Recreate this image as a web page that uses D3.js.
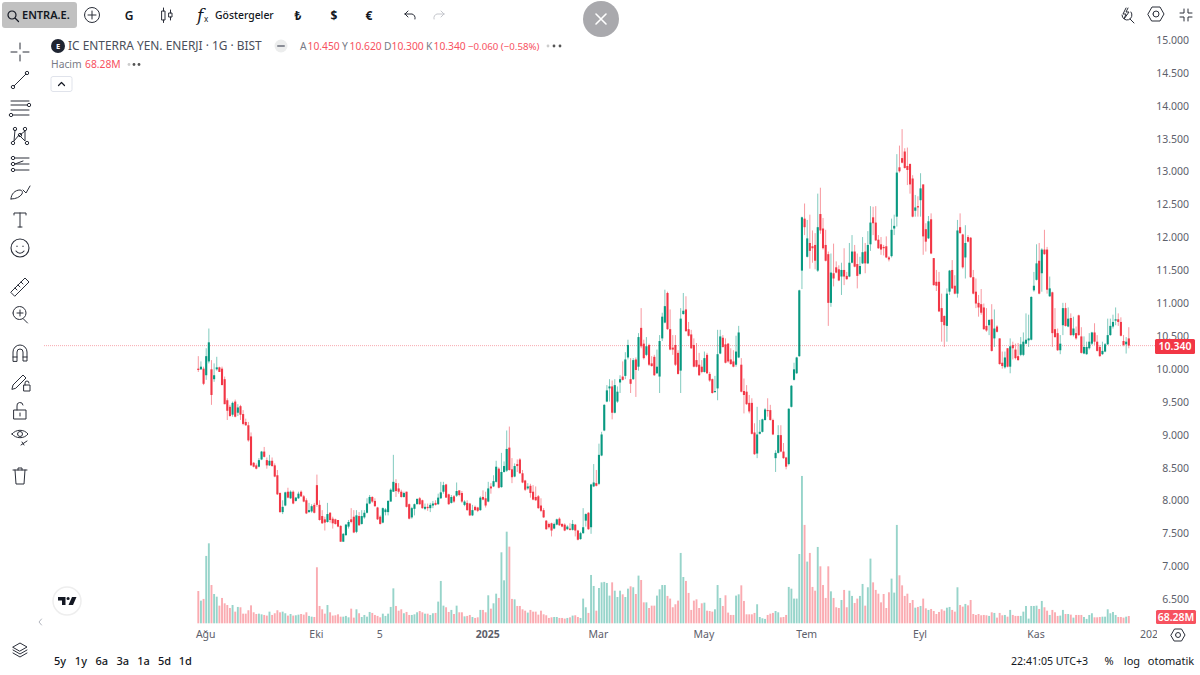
<!DOCTYPE html>
<html>
<head>
<meta charset="utf-8">
<script src="https://cdn.jsdelivr.net/npm/d3@7/dist/d3.min.js"></script>
<style>
  html, body { margin: 0; padding: 0; background: #fff; }
  svg { display: block; font-family: "Noto Sans", sans-serif; }
</style>
</head>
<body>
<div id="chart"></div>
<script>
// Daily candles, oldest first.
var opens = [
9.99,9.98,9.99,9.89,10.10,9.98,9.83,9.98,10.01,9.99,9.83,9.51,9.41,9.29,9.49,9.32,9.42,9.30,9.18,9.13,
8.96,8.56,8.52,8.50,8.61,8.73,8.60,8.52,8.59,8.52,8.37,8.10,7.81,7.91,8.12,8.02,8.12,7.98,8.02,8.12,
8.05,7.99,7.81,7.82,7.92,8.22,7.92,7.75,7.70,7.66,7.80,7.71,7.70,7.69,7.60,7.36,7.46,7.59,7.70,7.74,
7.51,7.75,7.63,7.73,7.80,7.94,8.04,7.98,7.88,7.74,7.65,7.81,7.81,7.97,8.12,8.25,8.17,8.12,8.04,8.12,
7.93,7.73,7.86,7.93,8.02,7.99,7.86,7.89,7.87,7.91,7.95,7.93,8.02,8.12,8.23,8.08,7.95,8.05,8.06,8.14,
8.10,7.92,7.95,7.94,7.76,7.89,7.88,7.84,8.04,8.02,7.97,8.20,8.20,8.27,8.47,8.19,8.42,8.44,8.79,8.46,
8.35,8.54,8.61,8.40,8.29,8.17,8.21,8.12,8.04,8.05,7.91,7.84,7.68,7.63,7.64,7.56,7.62,7.71,7.63,7.62,
7.55,7.56,7.54,7.62,7.53,7.40,7.49,7.68,7.80,7.58,8.20,8.25,8.24,8.67,9.05,9.49,9.69,9.72,9.32,9.49,
9.78,9.87,9.88,10.16,9.83,9.83,10.13,10.02,10.61,10.37,10.20,10.35,10.07,10.17,9.92,9.87,10.45,10.69,11.14,10.59,
10.31,10.35,10.23,9.96,10.82,10.89,10.59,10.51,10.35,10.12,10.05,10.02,9.94,10.20,9.91,9.83,9.64,9.69,10.22,10.46,
10.36,10.37,10.13,10.10,10.05,10.16,10.05,9.65,9.64,9.47,9.47,9.02,8.70,9.00,9.03,9.21,9.36,9.36,9.21,8.63,
8.71,8.98,8.73,8.64,8.54,9.41,9.82,9.92,10.18,11.48,12.27,11.69,11.90,11.85,11.87,11.48,12.34,12.12,11.87,11.73,
10.99,11.44,11.53,11.50,11.39,11.49,11.40,11.39,11.60,11.77,11.58,11.43,11.59,11.77,11.59,11.88,12.29,12.21,11.95,11.88,
11.84,11.85,11.68,11.70,12.12,12.30,13.05,13.19,13.29,13.07,13.10,12.88,12.39,12.46,12.55,12.79,12.11,11.97,12.26,11.67,
11.31,11.31,10.91,10.79,10.64,11.16,11.49,11.25,11.13,12.14,12.03,11.68,11.99,11.98,11.38,11.16,10.99,10.97,10.92,10.64,
10.65,10.74,10.45,10.63,10.45,10.08,10.01,10.30,10.02,10.35,10.28,10.18,10.20,10.20,10.37,10.42,10.43,11.18,11.34,11.63,
11.44,11.80,11.80,11.09,11.15,10.59,10.53,10.27,10.65,10.91,10.63,10.76,10.50,10.53,10.80,10.48,10.22,10.21,10.30,10.37,
10.54,10.40,10.32,10.21,10.25,10.36,10.50,10.63,10.72,10.74,10.70,10.41,10.36,10.45
];
var highs = [
10.18,10.10,10.02,10.30,10.60,10.12,10.07,10.17,10.02,10.02,9.87,9.54,9.44,9.49,9.52,9.45,9.44,9.36,9.23,9.18,
9.02,8.57,8.55,8.63,8.74,8.80,8.64,8.68,8.64,8.55,8.45,8.11,7.99,8.12,8.18,8.14,8.14,8.04,8.12,8.14,
8.07,8.02,7.95,7.93,7.95,8.38,7.99,7.84,7.74,7.95,7.81,7.74,7.71,7.69,7.61,7.49,7.63,7.69,7.87,7.84,
7.84,7.81,7.84,7.84,8.02,8.07,8.05,8.02,7.89,7.76,7.88,7.87,7.99,8.17,8.68,8.31,8.25,8.15,8.12,8.12,
7.94,7.89,7.94,8.02,8.04,8.00,7.94,7.94,7.95,7.98,7.99,8.09,8.27,8.27,8.24,8.09,8.07,8.07,8.26,8.14,
8.13,7.99,7.99,7.95,7.92,7.91,7.89,8.05,8.14,8.12,8.27,8.25,8.37,8.59,8.49,8.71,8.58,9.05,9.11,8.63,
8.55,8.61,8.63,8.45,8.30,8.25,8.24,8.22,8.20,8.07,8.02,7.87,7.69,7.65,7.65,7.65,7.71,7.73,7.64,7.64,
7.61,7.64,7.69,7.63,7.54,7.51,7.87,7.79,7.81,8.24,8.54,8.45,8.85,9.03,9.45,9.74,9.83,9.81,9.83,9.72,
9.89,10.10,10.24,10.43,10.15,10.15,10.16,10.53,10.91,10.43,10.47,10.37,10.18,10.20,10.28,10.50,10.84,11.19,11.16,10.89,
10.50,10.50,10.27,10.91,11.14,11.09,10.70,10.58,10.45,10.38,10.23,10.12,10.25,10.23,9.94,9.84,9.88,10.58,10.58,10.50,
10.45,10.38,10.30,10.27,10.49,10.64,10.15,9.84,9.74,9.59,9.54,9.16,9.41,9.21,9.23,9.39,9.54,9.44,9.23,8.75,
9.13,9.13,8.86,8.65,9.39,9.74,10.08,10.17,11.19,12.30,12.50,12.25,12.33,12.09,12.05,12.65,12.74,12.28,12.10,11.77,
11.74,11.89,11.62,11.56,11.60,11.82,11.46,11.90,12.02,11.87,11.74,11.69,11.99,11.90,12.08,12.46,12.45,12.46,12.02,11.99,
11.87,12.00,11.70,12.27,12.33,13.25,13.38,13.63,13.34,13.35,13.11,12.93,12.63,12.61,12.96,12.79,12.20,12.31,12.35,11.67,
11.49,11.46,11.13,10.80,11.21,11.49,11.64,11.41,12.25,12.35,12.04,12.17,12.02,11.99,11.49,11.36,11.11,11.20,10.98,10.91,
10.74,10.97,10.89,10.65,10.45,10.25,10.25,10.30,10.45,10.40,10.37,10.38,10.47,10.54,10.83,10.81,11.09,11.46,11.88,11.90,
11.82,12.10,11.84,11.39,11.16,10.91,10.60,10.50,10.99,10.99,10.92,10.83,10.78,10.63,10.81,10.62,10.48,10.40,10.53,10.55,
10.68,10.50,10.35,10.40,10.38,10.75,10.75,10.81,10.92,10.83,10.77,10.50,10.47,10.62
];
var lows = [
9.94,9.97,9.74,9.82,10.07,9.44,9.79,9.96,9.94,9.74,9.45,9.21,9.26,9.26,9.25,9.27,9.21,9.13,9.12,8.88,
8.52,8.49,8.46,8.49,8.60,8.64,8.47,8.51,8.50,8.34,8.07,7.80,7.78,7.90,8.02,8.01,7.93,7.97,8.01,8.04,
7.96,7.78,7.80,7.80,7.79,7.89,7.68,7.63,7.53,7.65,7.65,7.56,7.62,7.58,7.36,7.36,7.45,7.56,7.64,7.49,
7.49,7.60,7.62,7.71,7.79,7.93,7.95,7.89,7.69,7.62,7.64,7.76,7.76,7.97,8.12,8.04,8.09,8.03,8.03,7.88,
7.70,7.71,7.76,7.93,7.92,7.86,7.84,7.83,7.81,7.87,7.91,7.92,8.01,8.09,8.03,7.92,7.94,7.95,8.04,8.05,
7.95,7.90,7.83,7.75,7.75,7.83,7.81,7.83,7.99,7.88,7.96,8.09,8.19,8.26,8.17,8.18,8.41,8.42,8.44,8.25,
8.34,8.42,8.39,8.25,8.13,8.15,8.03,7.99,7.98,7.86,7.81,7.72,7.54,7.56,7.44,7.55,7.61,7.60,7.58,7.52,
7.54,7.53,7.53,7.44,7.38,7.39,7.48,7.59,7.54,7.48,8.19,8.20,8.22,8.66,9.04,9.48,9.49,9.22,9.31,9.47,
9.62,9.81,9.83,10.13,9.62,9.82,9.56,9.96,10.30,10.13,10.18,10.03,10.02,9.88,9.91,9.62,10.41,10.68,10.58,10.27,
10.20,10.03,9.90,9.62,10.81,10.55,10.48,10.29,10.01,10.01,9.88,9.92,9.93,9.91,9.79,9.61,9.62,9.51,10.21,10.31,
10.07,10.08,10.05,10.01,10.02,10.15,9.63,9.31,9.44,9.31,8.99,8.68,8.63,8.99,9.02,9.20,9.26,9.20,8.98,8.42,
8.70,8.72,8.62,8.46,8.52,9.40,9.81,9.91,10.17,11.20,12.02,11.68,11.51,11.60,11.50,11.46,12.04,11.80,11.62,10.64,
10.93,11.24,11.44,11.32,11.11,11.26,11.34,11.38,11.59,11.53,11.21,11.41,11.58,11.44,11.58,11.78,12.02,11.93,11.81,11.72,
11.71,11.67,11.62,11.68,12.02,12.15,12.97,13.11,13.03,12.78,12.65,12.29,12.30,12.30,12.30,11.72,11.77,11.96,11.73,11.25,
11.17,10.85,10.40,10.32,10.40,11.11,11.20,11.12,11.07,12.04,11.51,11.36,11.91,11.37,11.12,10.91,10.78,10.81,10.58,10.55,
10.50,10.25,10.32,10.54,10.05,9.99,9.99,10.01,9.92,10.13,10.13,10.11,10.18,10.18,10.36,10.32,10.42,11.16,11.33,11.12,
11.16,11.72,11.13,11.08,10.32,10.46,10.26,10.21,10.50,10.63,10.62,10.49,10.48,10.43,10.49,10.22,10.21,10.20,10.28,10.35,
10.35,10.25,10.17,10.20,10.24,10.35,10.49,10.60,10.65,10.64,10.48,10.33,10.22,10.30
];
var closes = [
9.97,10.02,9.76,10.18,10.39,9.59,9.89,10.01,9.94,9.74,9.45,9.35,9.27,9.47,9.26,9.40,9.29,9.15,9.13,8.90,
8.52,8.50,8.47,8.60,8.73,8.65,8.52,8.59,8.51,8.35,8.08,7.81,7.89,8.11,8.03,8.12,7.94,8.03,8.09,8.05,
7.97,7.79,7.84,7.90,7.80,7.92,7.69,7.64,7.65,7.78,7.69,7.64,7.63,7.59,7.36,7.48,7.62,7.66,7.66,7.50,
7.76,7.61,7.75,7.80,7.94,8.04,7.97,7.90,7.70,7.63,7.87,7.85,7.98,8.15,8.27,8.13,8.12,8.04,8.10,7.89,
7.71,7.87,7.93,8.01,7.93,7.87,7.89,7.87,7.92,7.94,7.92,8.03,8.11,8.22,8.03,7.93,8.04,7.97,8.13,8.07,
7.97,7.97,7.84,7.76,7.84,7.84,7.83,8.03,8.00,7.91,8.17,8.17,8.28,8.50,8.18,8.42,8.51,8.77,8.45,8.34,
8.51,8.51,8.40,8.26,8.15,8.20,8.10,8.00,7.99,7.87,7.83,7.73,7.55,7.58,7.53,7.63,7.70,7.61,7.59,7.53,
7.59,7.54,7.63,7.53,7.39,7.49,7.58,7.78,7.55,8.23,8.26,8.21,8.68,8.99,9.44,9.66,9.72,9.32,9.74,9.64,
9.83,9.82,10.13,10.35,9.76,10.12,9.97,10.47,10.33,10.15,10.33,10.05,10.03,9.89,10.02,10.41,10.78,10.94,10.59,10.28,
10.28,10.05,9.91,10.75,10.87,10.56,10.49,10.30,10.02,10.02,9.89,9.94,10.15,9.92,9.81,9.62,9.65,10.21,10.48,10.32,
10.08,10.10,10.06,10.02,10.25,10.54,9.64,9.59,9.45,9.34,9.00,8.69,8.99,9.03,9.22,9.37,9.35,9.21,8.99,8.71,
8.98,8.73,8.63,8.50,9.38,9.73,9.98,10.16,11.18,12.29,12.14,11.97,11.78,11.82,11.63,12.14,12.09,11.82,11.63,10.99,
11.45,11.36,11.45,11.33,11.49,11.39,11.35,11.60,11.77,11.54,11.40,11.55,11.76,11.59,11.87,12.21,12.20,11.94,11.82,11.80,
11.82,11.68,11.65,12.10,12.16,12.97,12.99,13.12,13.04,13.01,12.79,12.30,12.44,12.44,12.73,12.00,11.92,12.23,11.74,11.26,
11.25,10.86,10.70,10.65,11.13,11.48,11.21,11.13,12.09,12.05,11.53,11.90,11.92,11.38,11.13,10.98,10.92,10.84,10.59,10.57,
10.73,10.26,10.60,10.55,10.06,10.03,10.16,10.02,10.33,10.30,10.15,10.12,10.36,10.40,10.43,10.45,11.08,11.25,11.59,11.13,
11.80,11.73,11.19,11.21,10.53,10.47,10.27,10.37,10.91,10.64,10.75,10.50,10.60,10.45,10.50,10.23,10.32,10.32,10.40,10.54,
10.40,10.26,10.18,10.26,10.36,10.50,10.64,10.70,10.74,10.70,10.49,10.35,10.40,10.34
];
// Volume in millions.
var volumes = [
302,212,228,630,748,358,274,249,165,237,187,171,143,171,109,153,150,90,90,122,
168,103,87,90,84,78,72,109,78,94,122,103,109,94,72,87,72,75,81,87,
81,103,69,62,59,524,162,131,90,171,103,72,75,84,62,62,69,56,137,53,
131,94,59,78,62,106,97,78,69,56,90,69,90,153,327,162,118,131,94,106,
78,78,84,103,115,103,90,90,78,94,97,203,396,165,150,106,125,87,165,103,
103,65,69,78,59,50,56,125,125,103,262,137,187,277,237,664,402,857,717,228,
224,162,162,131,118,100,125,109,109,81,118,84,75,50,56,59,59,50,50,44,
50,56,72,75,59,50,231,150,97,452,349,118,330,383,387,377,259,383,305,246,
305,271,246,324,346,337,274,446,405,196,196,143,165,165,259,318,358,358,256,231,
150,178,212,658,433,396,284,125,212,224,143,187,193,118,115,109,131,358,237,162,
262,100,78,78,259,271,355,209,84,84,84,97,178,59,47,41,78,90,97,115,
103,56,59,78,340,324,231,231,648,1378,920,577,658,340,305,714,533,358,237,533,
299,237,150,143,218,312,150,305,256,190,231,256,368,165,337,605,383,312,277,196,
274,143,290,418,287,920,449,355,256,277,190,218,146,153,162,231,140,125,134,115,
87,106,131,118,146,153,125,109,337,171,156,181,168,218,87,78,87,75,78,75,
69,103,97,53,97,75,78,62,125,78,69,69,69,109,162,44,162,162,165,134,
209,150,118,78,125,103,69,72,125,87,87,81,53,78,78,78,59,41,78,94,
56,56,59,62,62,131,94,106,78,59,59,53,62,68.28
];
var priceTicks = [15, 14.5, 14, 13.5, 13, 12.5, 12, 11.5, 11, 10.5, 10, 9.5, 9, 8.5, 8, 7.5, 7, 6.5];
var timeTicks = [3, 45, 69, 110, 152, 192, 231, 274, 318, 362];
var timeLabels = ["Ağu", "Eki", "5", "2025", "Mar", "May", "Tem", "Eyl", "Kas", "2026"];
var ranges = ["5y", "1y", "6a", "3a", "1a", "5d", "1d"];
var lastPrice = 10.34;
var lastVolume = 68.28;

var upColor = "#089981", downColor = "#f23645";
var textColor = "#131722", axisColor = "#5d606b";

var svg = d3.select("#chart").append("svg").attr("width", 1200).attr("height", 675);

var x = d3.scaleLinear().domain([0, 353]).range([198.3, 1128.8]);
var y = d3.scaleLinear().domain([10, 15]).range([368, 39]);
var yVol = d3.scaleLinear().domain([0, 1400]).range([623.3, 473.6]);

// Volume bars sit behind the candles.
svg.append("g").selectAll("rect")
    .data(volumes)
    .enter().append("rect")
    .attr("x", (d, i) => x(i) - 0.95)
    .attr("width", 1.9)
    .attr("y", d => yVol(d))
    .attr("height", d => yVol(0) - yVol(d))
    .style("fill", (d, i) => closes[i] >= opens[i] ? upColor : downColor)
    .style("opacity", 0.42);

// Last price line.
svg.append("line")
    .attr("x1", 44).attr("x2", 1155)
    .attr("y1", y(lastPrice)).attr("y2", y(lastPrice))
    .style("stroke", downColor).style("stroke-width", 1)
    .style("stroke-dasharray", "1 1").style("opacity", 0.42);

var candle = svg.append("g").selectAll("g")
    .data(opens)
    .enter().append("g")
    .style("color", (d, i) => closes[i] >= opens[i] ? upColor : downColor);

candle.append("line")
    .attr("x1", (d, i) => x(i)).attr("x2", (d, i) => x(i))
    .attr("y1", (d, i) => y(highs[i]))
    .attr("y2", (d, i) => y(lows[i]))
    .style("stroke", "currentColor").style("stroke-width", 1).style("opacity", 0.5);

candle.append("rect")
    .attr("x", (d, i) => x(i) - 1.05)
    .attr("width", 2.1)
    .attr("y", (d, i) => y(Math.max(opens[i], closes[i])))
    .attr("height", (d, i) => Math.max(1, Math.abs(y(opens[i]) - y(closes[i]))))
    .style("fill", "currentColor");

// Price axis.
var yAxis = d3.axisRight(y).tickValues(priceTicks).tickFormat(d3.format(".3f")).tickSize(0);
var yG = svg.append("g").attr("transform", "translate(1150,1)").call(yAxis);
yG.select(".domain").remove();
yG.selectAll("text")
    .attr("x", 39).style("text-anchor", "end")
    .style("font-family", '"Noto Sans", sans-serif')
    .style("font-size", "10.5px").style("fill", axisColor);

// Time axis.
var xAxis = d3.axisBottom(x).tickValues(timeTicks)
    .tickFormat((d, i) => timeLabels[i]).tickSize(0);
var xG = svg.append("g").attr("transform", "translate(-1,626)").call(xAxis);
xG.select(".domain").remove();
xG.selectAll("text")
    .attr("y", 5)
    .style("font-family", '"Noto Sans", sans-serif')
    .style("font-size", "10.5px").style("fill", axisColor)
    .style("font-weight", d => d === 110 ? "700" : "400");
// The last label runs under the price scale.
svg.append("rect").attr("x", 1157).attr("y", 625).attr("width", 43).attr("height", 22).style("fill", "#fff");

function badge(bx, by, w, h, fill, label) {
    svg.append("rect").attr("x", bx).attr("y", by).attr("width", w).attr("height", h)
        .attr("rx", 1.5).style("fill", fill);
    svg.append("text").attr("x", bx + w / 2).attr("y", by + h / 2 + 3.6)
        .style("text-anchor", "middle").style("fill", "#fff")
        .style("font-size", "10.5px").style("font-weight", "600").text(label);
}
badge(1155, 339, 40, 15, downColor, d3.format(".3f")(lastPrice));
badge(1156, 610, 40, 14, "#f7525f", lastVolume.toFixed(2) + "M");

function label(lx, ly, str, size, fill, weight, anchor) {
    return svg.append("text").attr("x", lx).attr("y", ly).text(str)
        .style("font-size", size + "px").style("fill", fill)
        .style("font-weight", weight || 400).style("text-anchor", anchor || "start");
}

function icon(cx, cy, d, stroke, width) {
    svg.append("path").attr("transform", "translate(" + cx + "," + cy + ")").attr("d", d)
        .style("fill", "none").style("stroke", stroke || "#2a2e39")
        .style("stroke-width", width || 1).style("stroke-linecap", "round").style("stroke-linejoin", "round");
}

// Top toolbar.
svg.append("rect").attr("x", 2).attr("y", 2).attr("width", 75).attr("height", 26).attr("rx", 3).style("fill", "#c1c1c1");
icon(13, 15, "M-5,0a4,4 0 1,0 8,0a4,4 0 1,0 -8,0M2,3l3.5,3.5", "#131722", 1.2);
label(22, 19, "ENTRA.E.", 11, textColor, 600);
icon(92, 15, "M-7.5,0a7.5,7.5 0 1,0 15,0a7.5,7.5 0 1,0 -15,0M-4,0h8M0,-4v8");
label(129, 19.5, "G", 12, textColor, 600, "middle");
icon(165, 15, "M-3,-4h3v9h-3zM-1.5,-7v3M-1.5,5v2.5M4,-2h3v4h-3zM5.5,-5v3M5.5,2v3", "#2a2e39");
label(197, 21, "f", 17, textColor, 400).style("font-style", "italic").style("font-family", "DejaVu Serif");
label(204, 22, "x", 8, textColor, 400);
label(215, 19, "Göstergeler", 10.4, textColor, 500);
label(298, 19.5, "₺", 12, textColor, 700, "middle");
label(334, 19.5, "$", 12, textColor, 700, "middle");
label(369, 19.5, "€", 12, textColor, 700, "middle");
icon(410, 15, "M-5,-1h7a4,4 0 0,1 3,5M-5,-1l3,-3M-5,-1l3,3");
icon(439, 15, "M5,-1h-7a4,4 0 0,0 -3,5M5,-1l-3,-3M5,-1l-3,3", "#c4c6cc");

svg.append("circle").attr("cx", 601).attr("cy", 19).attr("r", 18).style("fill", "#a9a9ad");
icon(601, 19, "M-5,-5L5,5M5,-5L-5,5", "#fff", 1.6);

icon(1127, 14, "M-5,1a5,5 0 1,0 9,-3M3,5l4,4M-1,-6l-3,6h3l-2,5l5,-7h-3l2,-4", "#2a2e39");
icon(1156, 14, "M-8,0L-4,-7H4L8,0L4,7H-4ZM-3,0a3,3 0 1,0 6,0a3,3 0 1,0 -6,0");
icon(1186, 15, "M-6,-2h4v-4M6,-2h-4v-4M-6,2h4v4M6,2h-4v4");

// Legend.
svg.append("circle").attr("cx", 58).attr("cy", 46).attr("r", 7).style("fill", "#1f2532");
label(58, 49, "E", 7.5, "#fff", 700, "middle");
label(68, 50, "IC ENTERRA YEN. ENERJI · 1G · BIST", 11.9, "#4a4e5a", 400);
svg.append("circle").attr("cx", 281).attr("cy", 46).attr("r", 6.5).style("fill", "#eceded");
icon(281, 46, "M-3,0h6", "#8a8d96", 2);

var legendRed = "#f7525f", legendGray = "#787b86";
[["A", 300, "10.450"], ["Y", 342, "10.620"], ["D", 384, "10.300"], ["K", 426, "10.340"]].forEach(function (o) {
    label(o[1], 49.5, o[0], 10.3, legendGray, 400);
    label(o[1] + 7.5, 49.5, o[2], 10.3, legendRed, 400);
});
label(468, 49.5, "−0.060 (−0.58%)", 9.7, legendRed, 400);
[548, 554, 560].forEach(function (d, i) {
    svg.append("circle").attr("cx", d).attr("cy", 46).attr("r", 1.4).style("fill", i ? "#555" : "#ccc");
});
label(51, 68, "Hacim", 10.3, legendGray, 400);
label(85, 68, lastVolume.toFixed(2) + "M", 10.3, legendRed, 400);
[129, 134, 139].forEach(function (d, i) {
    svg.append("circle").attr("cx", d).attr("cy", 64.5).attr("r", 1.4).style("fill", i ? "#555" : "#ccc");
});
svg.append("rect").attr("x", 51).attr("y", 76.5).attr("width", 21).attr("height", 15).attr("rx", 2)
    .style("fill", "#fff").style("stroke", "#e0e3eb");
icon(61.5, 84, "M-3,1.5L0,-1.5L3,1.5", "#131722", 1.2);

// Left drawing tools.
var nodes = function (list) {
    return list.map(function (p) {
        return "M" + (p[0] - 1.7) + "," + p[1] + "a1.7,1.7 0 1,0 3.4,0a1.7,1.7 0 1,0 -3.4,0";
    }).join("");
};
icon(20, 52, "M-9,0h6M3,0h6M0,-9v6M0,3v6");
icon(20, 80, "M-6,6L6,-6" + nodes([[-7, 7], [7, -7]]));
icon(20, 108, "M-9,-7h18M-9,-3h16M-9,2h18M-7,7h16" + nodes([[9, -3], [-9, 7]]));
icon(20, 136, "M-5,-6L-6,5L-1,-1L5,5L5,-5L0,-1" + nodes([[-5, -7], [-7, 7], [0, -1], [7, 7], [5, -7]]));
icon(20, 164, "M-5,-6h14M-5,0l8,-3M-5,0h14M-5,6h14" + nodes([[-7, -6], [-7, 0], [-7, 6]]));
icon(20, 192, "M-9,7c0,-5 4,-9 9,-9c2,0 3,2 2,4c-2,3 -6,5 -11,5M3,-2l3,3l4,-7");
icon(20, 220, "M-6,-5v-2h12v2M0,-7v14M-2,7h4");
icon(20, 248, "M-9,0a9,9 0 1,0 18,0a9,9 0 1,0 -18,0M-4,3c2,3 6,3 8,0M-3,-2v0.5M3,-2v0.5", "#2a2e39", 1.1);
icon(20, 287, "M-9,5L5,-9L9,-5L-5,9ZM-5,1l2,2M-2,-2l2,2M1,-5l2,2");
icon(20, 314, "M-7,-1a6.5,6.5 0 1,0 13,0a6.5,6.5 0 1,0 -13,0M3.5,5l4,4M-3,-1h6M0,-4v6");
icon(20, 353, "M-7,8v-9a7,7 0 0,1 14,0v9h-4v-9a3,3 0 0,0 -6,0v9ZM-7,4h4M3,4h4");
icon(20, 382, "M-8,7l1,-4L3,-7l3,3L-4,6ZM4,3h6v6h-6zM5,3v-2a2,2 0 0,1 4,0");
icon(20, 411, "M-6,-1h12v9h-12zM-3,-1v-4a3,3 0 0,1 6,-1M0,2v3");
icon(20, 437, "M-8,-3c4,-5 12,-5 16,0c-4,5 -12,5 -16,0ZM-2.5,-3a2.5,2.5 0 1,0 5,0a2.5,2.5 0 1,0 -5,0M1,8l6,-4M2,5l2,3");
icon(20, 476, "M-7,-6h14M-5,-6l1,14h8l1,-14M-2,-6v-2h4v2");
icon(20, 648, "M-7,-1L0,-5L7,-1L0,3ZM-7,2L0,6L7,2M-7,5L0,9L7,5", "#2a2e39");

// Logo and small controls.
svg.append("circle").attr("cx", 67).attr("cy", 601).attr("r", 14)
    .style("fill", "#fff").style("stroke", "#eeeeee").style("stroke-width", 1.5);
svg.append("path").attr("transform", "translate(67,601)")
    .attr("d", "M-9,-4h7.5v8h-3.5v-4.5h-4ZM5,-4h4.5l-3.5,8h-4.5ZM-0.5,-2.5a1.6,1.6 0 1,0 3.2,0a1.6,1.6 0 1,0 -3.2,0")
    .style("fill", "#131722");
icon(40, 622, "M1.5,-3L-1,0L1.5,3", "#b2b5be");
icon(1178, 635, "M-7,0L-3.5,-6H3.5L7,0L3.5,6H-3.5ZM-2.5,0a2.5,2.5 0 1,0 5,0a2.5,2.5 0 1,0 -5,0");

// Bottom bar.
ranges.forEach(function (r, i) {
    label(60 + i * 20.9, 665, r, 11, textColor, 500, "middle");
});
label(1011, 665, "22:41:05 UTC+3", 10.6, textColor, 400);
label(1109, 665, "%", 11, textColor, 400, "middle");
label(1132, 665, "log", 11, textColor, 400, "middle");
label(1171, 665, "otomatik", 11, textColor, 400, "middle");
</script>
</body>
</html>
